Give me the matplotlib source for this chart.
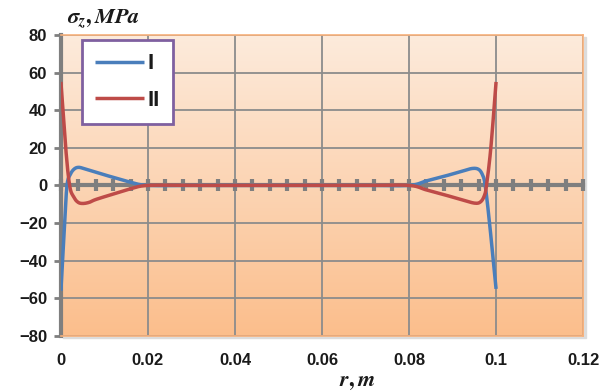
import numpy as np
import matplotlib
matplotlib.use("Agg")
import matplotlib.pyplot as plt
from matplotlib.colors import LinearSegmentedColormap
import matplotlib.patches as patches

# data (smoothed Excel-style lines through these points)
r_I = [0.0, 0.0008, 0.0014, 0.0022, 0.0031, 0.0041, 0.0055, 0.008, 0.012,
       0.016, 0.02, 0.03, 0.04, 0.05, 0.06, 0.07, 0.08, 0.084, 0.088, 0.092,
       0.0945, 0.096, 0.0969, 0.0975, 0.0985, 0.1]
sigma_I = [-56, -22, 0, 6, 8.8, 9.6, 8.8, 7, 4.3,
           1.7, 0, 0, 0, 0, 0, 0, 0, 2.4, 4.8, 7.4,
           9, 8.5, 5.5, 0, -20, -55]
r_II = [0.0, 0.0011, 0.002, 0.0029, 0.0039, 0.005, 0.0065, 0.008, 0.012,
        0.016, 0.02, 0.03, 0.04, 0.05, 0.06, 0.07, 0.08, 0.084, 0.088, 0.092,
        0.0950, 0.0964, 0.0973, 0.0978, 0.0988, 0.1]
sigma_II = [55, 20, 0, -6, -8.9, -9.6, -9, -7.5, -4.6,
            -1.8, 0, 0, 0, 0, 0, 0, 0, -2.4, -4.9, -7.5,
            -9.4, -8.8, -5.5, 0, 20, 55]
labels = ["I", "II"]
colors = ["#4A7EBB", "#BE4B48"]
x_ticks = [0, 0.02, 0.04, 0.06, 0.08, 0.1, 0.12]
x_ticklabels = ["0", "0.02", "0.04", "0.06", "0.08", "0.1", "0.12"]
y_ticks = [-80, -60, -40, -20, 0, 20, 40, 60, 80]


def smooth(xs, ys, n=30):
    # parametric bezier smoothing like excel's "smoothed line"
    p = np.column_stack([xs, ys]).astype(float)
    p = np.vstack([p[0], p, p[-1]])
    out = []
    t = np.linspace(0, 1, n)[:, None]
    for i in range(1, len(p) - 2):
        p0, p1, p2, p3 = p[i - 1], p[i], p[i + 1], p[i + 2]
        b1 = p1 + (p2 - p0) / 6
        b2 = p2 - (p3 - p1) / 6
        seg = ((1 - t) ** 3 * p1 + 3 * (1 - t) ** 2 * t * b1
               + 3 * (1 - t) * t ** 2 * b2 + t ** 3 * p2)
        out.append(seg)
    out = np.vstack(out)
    return out[:, 0], out[:, 1]


plt.rcParams['font.family'] = ['Liberation Sans', 'DejaVu Sans']
plt.rcParams['mathtext.fontset'] = 'custom'
plt.rcParams['mathtext.it'] = 'STIXGeneral:italic:bold'
plt.rcParams['mathtext.rm'] = 'STIXGeneral:bold'

fig = plt.figure(figsize=(6.03, 3.92), dpi=100)
ax = fig.add_axes([0.101, 0.143, 0.866, 0.768])

# shadow behind plot area
fig.patches.append(patches.Rectangle((0.101 + 0.004, 0.143 - 0.006), 0.866, 0.768,
                                     transform=fig.transFigure, color='#dcdcdc',
                                     zorder=-5))

grad = LinearSegmentedColormap.from_list("g", ["#FBBE8C", "#FDEBDC"])
ax.imshow(np.linspace(0, 1, 256).reshape(-1, 1), extent=[0, 1, 0, 1],
          transform=ax.transAxes, cmap=grad, aspect='auto', origin='lower', zorder=0)

ax.set_xlim(0, 0.12)
ax.set_ylim(-80, 80)
ax.set_xticks(x_ticks)
ax.set_xticklabels(x_ticklabels)
ax.set_yticks(y_ticks)
ax.grid(True, color='#8c8c8c', lw=1.3, zorder=1)
ax.set_axisbelow(True)
for s in ['top', 'right', 'bottom']:
    ax.spines[s].set_color('#F7B07A')
    ax.spines[s].set_linewidth(1.2)
ax.spines['left'].set_color('#7f7f7f')
ax.spines['left'].set_linewidth(3)
ax.tick_params(axis='y', direction='out', length=5, width=2, color='#7f7f7f',
               labelsize=12, pad=5)
ax.tick_params(axis='x', length=0, labelsize=12, pad=12)
for t in ax.get_xticklabels() + ax.get_yticklabels():
    t.set_fontweight('bold')
    t.set_color('#1a1a1a')

# zero axis with tick marks + curves
ax2 = ax.twiny()
ax2.set_xlim(0, 0.12)
ax2.patch.set_visible(False)
for s in ['top', 'right', 'left']:
    ax2.spines[s].set_visible(False)
ax2.spines['bottom'].set_position(('data', 0))
ax2.spines['bottom'].set_color('#7f7f7f')
ax2.spines['bottom'].set_linewidth(3)
ax2.xaxis.set_ticks_position('bottom')
ax2.set_xticks(np.arange(0, 0.1201, 0.004))
ax2.tick_params(axis='x', direction='inout', length=9, width=3, color='#7f7f7f',
                labelbottom=False)

for xs, ys, lab, c in zip([r_I, r_II], [sigma_I, sigma_II], labels, colors):
    sx, sy = smooth(xs, ys)
    ax2.plot(sx, sy, color=c, lw=2.5, label=lab, zorder=5, solid_capstyle='butt')

leg = ax2.legend(loc='upper left', bbox_to_anchor=(0.04, 0.983), borderaxespad=0,
                 fancybox=False, framealpha=1, edgecolor='#7F60A0',
                 handlelength=2.2, labelspacing=0.7, borderpad=0.6,
                 handletextpad=0.15,
                 prop={'family': 'Liberation Sans', 'weight': 'bold', 'size': 16})
leg.get_frame().set_linewidth(2)
leg.get_frame().set_facecolor('white')
for txt in leg.get_texts():
    txt.set_color('#1a1a1a')

fig.text(0.111, 0.953, r'$\sigma_z, MPa$', fontsize=16, ha='left', va='center',
         color='#1a1a1a')
fig.text(0.593, 0.028, r'$r, m$', fontsize=16, ha='center', va='center',
         color='#1a1a1a')

fig.savefig("out.png", dpi=100)
